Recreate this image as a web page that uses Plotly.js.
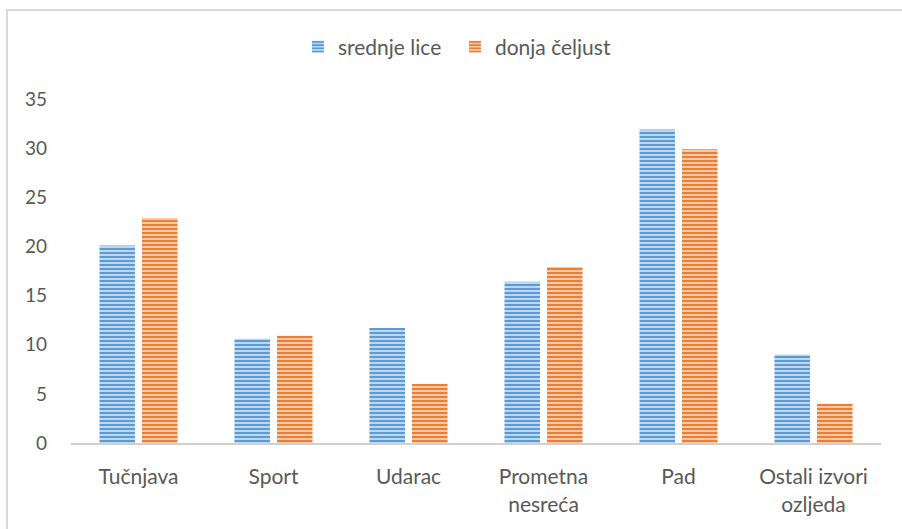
<!DOCTYPE html>
<html>
<head>
<meta charset="utf-8">
<script src="https://cdn.plot.ly/plotly-3.0.1.min.js"></script>
<style>
  html, body { margin: 0; padding: 0; background: #ffffff; }
  #frame { position: absolute; left: 6px; top: 9px; width: 1000px; height: 600px; border: 2px solid #d9d9d9; box-sizing: border-box; }
  #chart { position: absolute; left: 0; top: 0; width: 902px; height: 529px; }
</style>
</head>
<body>
<div id="frame"></div>
<div id="chart"></div>
<script>
const categories = ["Tučnjava", "Sport", "Udarac", "Prometna<br>nesreća", "Pad", "Ostali izvori<br>ozljeda"];
const srednjeLice = [20.1, 10.6, 11.7, 16.4, 31.9, 9.0];
const donjaCeljust = [22.9, 10.9, 6.0, 17.9, 29.9, 4.0];
const yTicks = [0, 5, 10, 15, 20, 25, 30, 35];

const fontFamily = "Lato, 'Open Sans', sans-serif";
const textColor = "#595959";

const traces = [
  {
    type: "bar", name: "srednje lice", x: categories, y: srednjeLice,
    marker: {
      color: "#5B9BD5",
      line: { width: 0 },
      pattern: { shape: "-", fgcolor: "#5B9BD5", bgcolor: "#c9def2", size: 4, solidity: 0.55, fillmode: "replace" }
    },
    hoverinfo: "skip"
  },
  {
    type: "bar", name: "donja čeljust", x: categories, y: donjaCeljust,
    marker: {
      color: "#ED7D31",
      line: { width: 0 },
      pattern: { shape: "-", fgcolor: "#ED7D31", bgcolor: "#f9d2b8", size: 4, solidity: 0.55, fillmode: "replace" }
    },
    hoverinfo: "skip"
  }
];

const layout = {
  width: 902, height: 529,
  paper_bgcolor: "rgba(0,0,0,0)",
  plot_bgcolor: "rgba(0,0,0,0)",
  margin: { l: 71, r: 21, t: 99, b: 86, pad: 0 },
  font: { family: fontFamily, size: 21, color: textColor },
  barmode: "group",
  bargap: 0.37,
  bargroupgap: 0.165,
  showlegend: true,
  legend: {
    orientation: "h", x: 0.474, xanchor: "center", y: 1.151, yanchor: "middle",
    font: { family: fontFamily, size: 21, color: textColor },
    itemwidth: 30, tracegroupgap: 0,
    entrywidth: 112, entrywidthmode: "pixels"
  },
  xaxis: {
    showgrid: false, zeroline: false,
    showline: true, linecolor: "#d0d0d0", linewidth: 2,
    ticks: "", ticklabelstandoff: 14,
    tickfont: { family: fontFamily, size: 21, color: textColor },
    fixedrange: true
  },
  yaxis: {
    range: [0, 35], tickvals: yTicks, ticktext: yTicks.map(String),
    showgrid: false, zeroline: false, showline: false,
    ticks: "", ticklabelstandoff: 23,
    tickfont: { family: fontFamily, size: 19, color: textColor },
    fixedrange: true
  }
};

Plotly.newPlot("chart", traces, layout, { displayModeBar: false, staticPlot: true });
</script>
</body>
</html>
